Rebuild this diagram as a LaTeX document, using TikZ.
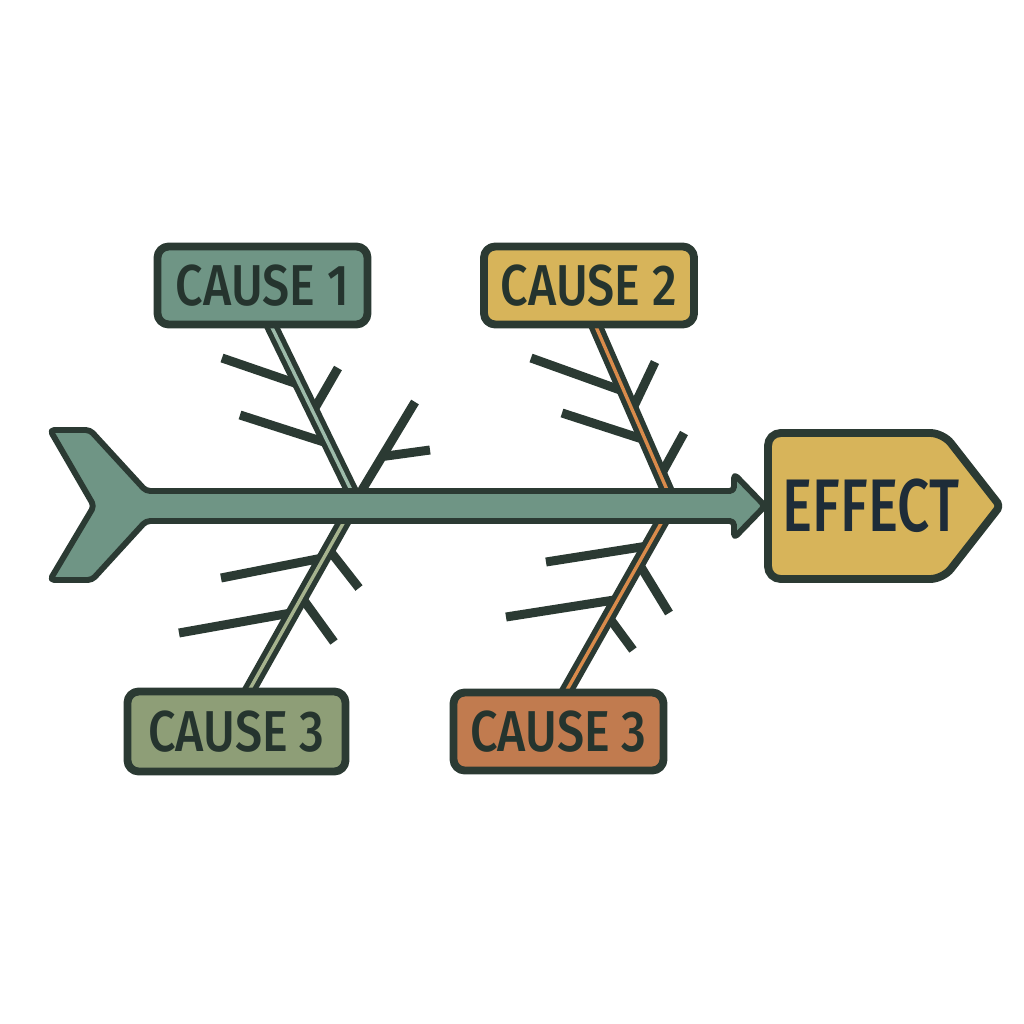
\documentclass[tikz,border=0pt]{standalone}
\usepackage{fontspec}
\usepackage{tikz}
\usetikzlibrary{calc}
\usetikzlibrary{positioning,backgrounds}

\newfontfamily\causefont[FakeStretch=0.84]{Fira Sans Medium}
\newfontfamily\effectfont[FakeStretch=0.76]{Fira Sans Medium}

\definecolor{ink}{HTML}{2B3A33}
\definecolor{inktext}{HTML}{25342E}
\definecolor{inkblue}{HTML}{1E2C38}
\definecolor{sage}{HTML}{6F9585}
\definecolor{sagelight}{HTML}{9DBBAA}
\definecolor{mustard}{HTML}{D7B45A}
\definecolor{olive}{HTML}{8E9E77}
\definecolor{olivelight}{HTML}{A6B38E}
\definecolor{terra}{HTML}{C17B4F}
\definecolor{orangeline}{HTML}{D98B4B}

\begin{document}
\begin{tikzpicture}[
  x=0.025cm,y=-0.025cm,
  line cap=round,
  line join=round,
  causebox/.style={draw=ink,line width=5.6pt,rounded corners=8pt,
    minimum width=5.25cm,minimum height=1.95cm,inner sep=0pt,
    font=\causefont\fontsize{41}{41}\selectfont,text=inktext},
  bone/.style={draw=ink,line width=3.8pt,double distance=2.4pt,line cap=butt},
  twig/.style={draw=ink,line width=6.4pt},
  spine/.style={draw=ink,line width=4.2pt,fill=sage,rounded corners=3pt}
]
\useasboundingbox (0,0) rectangle (1024,1024);

% cause boxes
\node[causebox,fill=sage] (c1) at (262.5,285.5) {CAUSE 1};
\node[causebox,fill=mustard] (c2) at (589,285.5) {CAUSE 2};
\node[causebox,fill=olive,minimum width=5.45cm,minimum height=2cm] (c3) at (236.5,731.5) {CAUSE 3};
\node[causebox,fill=terra] (c4) at (558.5,731.5) {CAUSE 3};

% where the bones meet the spine
\coordinate (h1) at (352,492);
\coordinate (h2) at (668,492);
\coordinate (h3) at (345,520);
\coordinate (h4) at (663,520);

% bone ends under the boxes
\coordinate (t1) at ($(c1.south)+(8,-4)$);
\coordinate (t2) at ($(c2.south)+(6,-4)$);
\coordinate (t3) at ($(c3.north)+(12,4)$);
\coordinate (t4) at ($(c4.north)+(7,4)$);

% points on the bones
\path (t1) -- (h1)
  coordinate[pos=0.36] (a1) coordinate[pos=0.71] (a2) coordinate[pos=0.52] (a3);
\path (t2) -- (h2)
  coordinate[pos=0.40] (b1) coordinate[pos=0.69] (b2)
  coordinate[pos=0.51] (b3) coordinate[pos=0.90] (b4);
\path (h3) -- (t3)
  coordinate[pos=0.22] (d1) coordinate[pos=0.54] (d2)
  coordinate[pos=0.17] (d3) coordinate[pos=0.45] (d4);
\path (h4) -- (t4)
  coordinate[pos=0.15] (e1) coordinate[pos=0.46] (e2)
  coordinate[pos=0.25] (e3) coordinate[pos=0.56] (e4);

\begin{scope}[on background layer]
% small bones
\draw[twig] (a1) -- (222,358);
\draw[twig] (a2) -- (240,415);
\draw[twig] (a3) -- (338,368);
\draw[twig] ($(h1)+(10,-2)$) -- (415,402) coordinate[pos=0.38] (a4);
\draw[twig] (a4) -- (430,450);

\draw[twig] (b1) -- (531,358);
\draw[twig] (b2) -- (562,413);
\draw[twig] (b3) -- (655,362);
\draw[twig] (b4) -- (684,433);

\draw[twig] (d1) -- (221,578);
\draw[twig] (d2) -- (179,633);
\draw[twig] (d3) -- (359,588);
\draw[twig] (d4) -- (334,642);

\draw[twig] (e1) -- (546,562);
\draw[twig] (e2) -- (506,617);
\draw[twig] (e3) -- (669,613);
\draw[twig] (e4) -- (633,650);

% main bones
\draw[bone,double=sagelight] (t1) -- (h1);
\draw[bone,double=orangeline] (t2) -- (h2);
\draw[bone,double=olivelight] (h3) -- (t3);
\draw[bone,double=orangeline] (h4) -- (t4);
\end{scope}

% spine with tail and head
\draw[spine] (50,430) -- (90,430) -- (146,491) -- (734,491) -- (734,474)
  -- (765,506) -- (734,538) -- (734,521) -- (146,521) -- (92,580)
  -- (50,580) -- (94,506) -- cycle;

% effect
\draw[draw=ink,line width=5.6pt,fill=mustard,rounded corners=9pt]
  (768,433) -- (943,433) [rounded corners=3pt] -- (1000,506) [rounded corners=9pt]
  -- (943,579) -- (768,579) -- cycle;
\node[font=\effectfont\fontsize{53}{53}\selectfont,text=inkblue] (effect) at (871,506) {EFFECT};

\end{tikzpicture}
\end{document}
